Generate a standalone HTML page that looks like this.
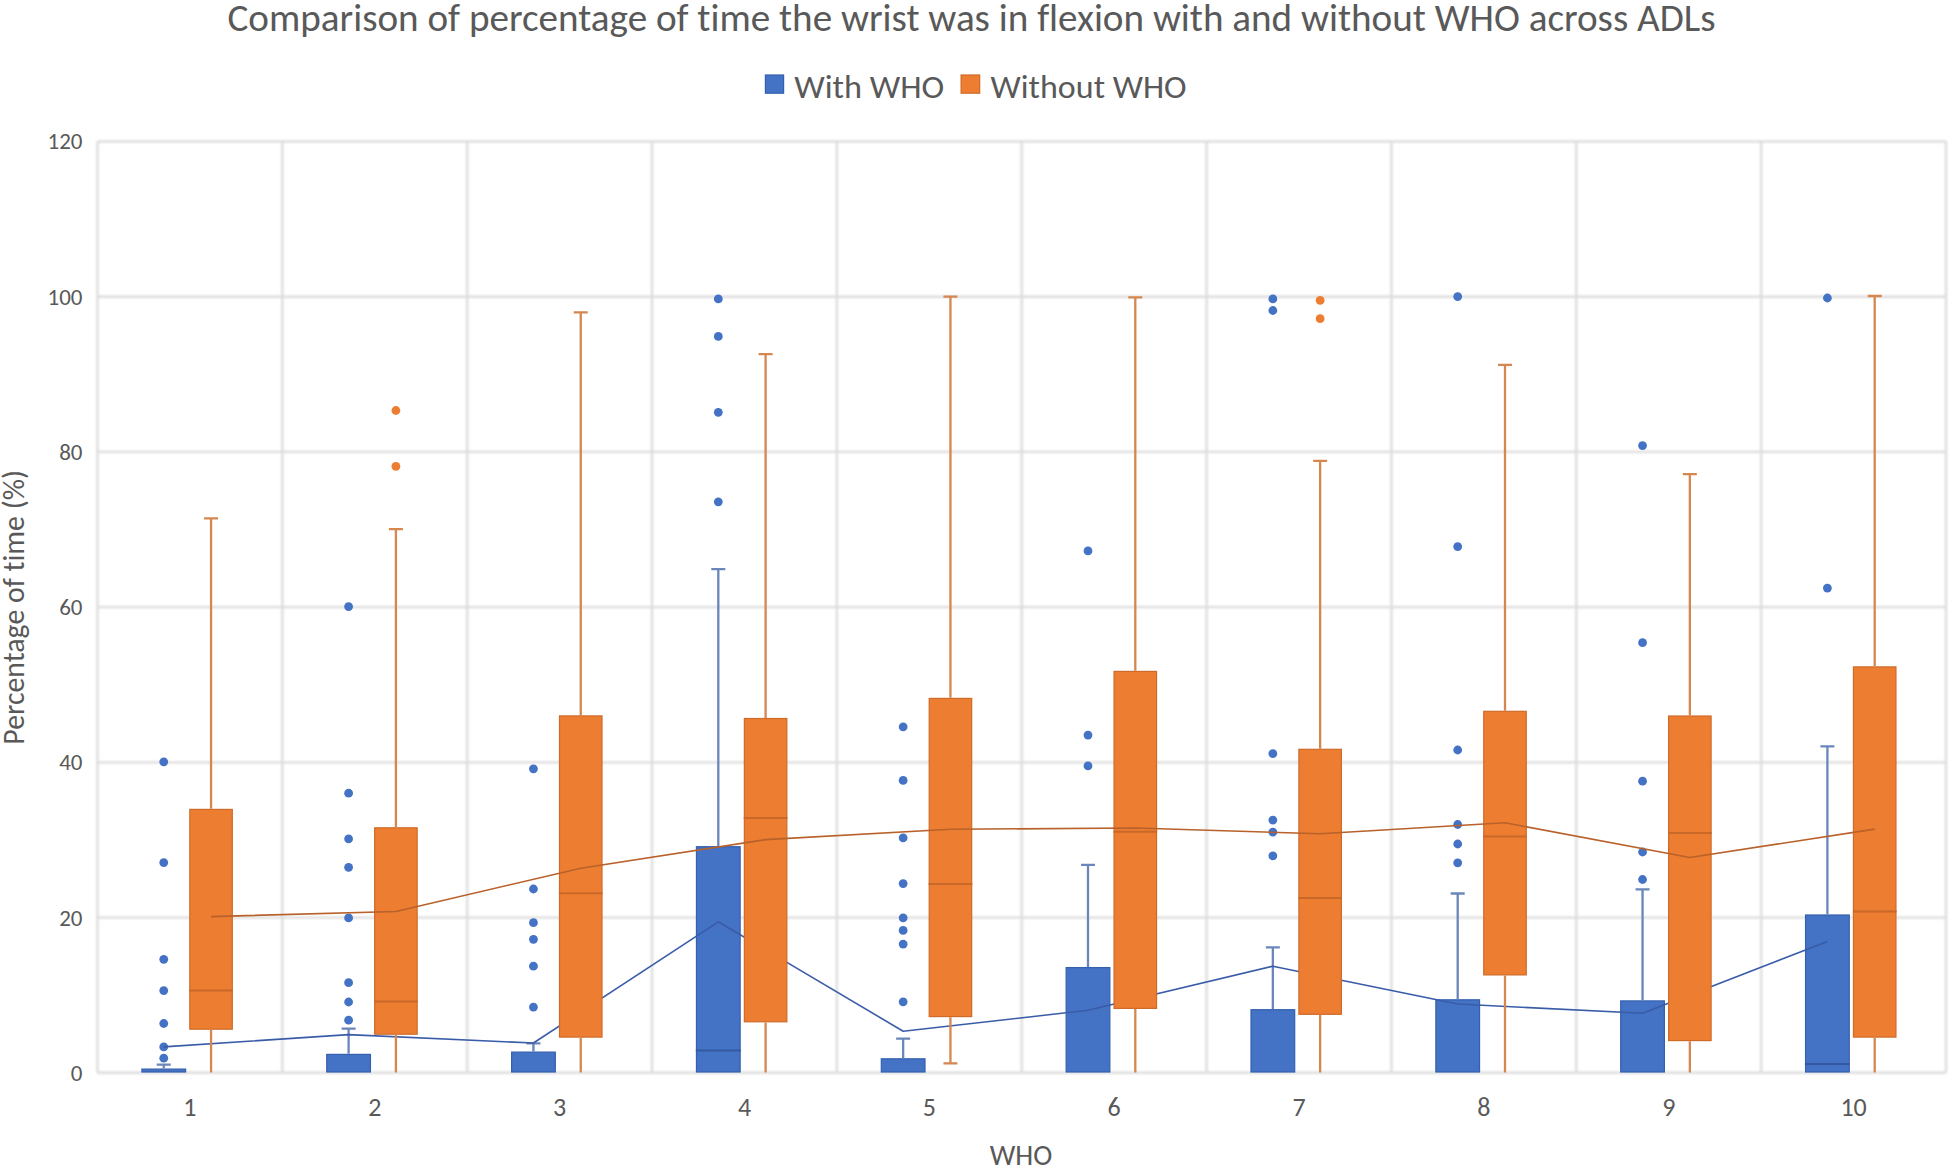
<!DOCTYPE html>
<html><head><meta charset="utf-8"><title>Comparison of percentage of time the wrist was in flexion</title>
<style>
html,body{margin:0;padding:0;background:#fff;overflow:hidden;}
svg{display:block;}
text{font-family:Carlito,"Liberation Sans",sans-serif;fill:#595959;font-variant-ligatures:none;font-feature-settings:"liga" 0,"clig" 0;}
</style></head><body>
<svg width="1950" height="1170" viewBox="0 0 1950 1170">
<defs><filter id="bl" filterUnits="userSpaceOnUse" x="0" y="0" width="1950" height="1170" color-interpolation-filters="sRGB"><feGaussianBlur stdDeviation="0.8"/></filter></defs>
<rect width="1950" height="1170" fill="#fff"/>
<g filter="url(#bl)">
<g stroke="#DCDCDC" stroke-width="2.4" fill="none">
<path d="M97.5 1072.8H1946"/>
<path d="M97.5 917.58H1946"/>
<path d="M97.5 762.36H1946"/>
<path d="M97.5 607.14H1946"/>
<path d="M97.5 451.92H1946"/>
<path d="M97.5 296.7H1946"/>
<path d="M97.5 141.48H1946"/>
<path d="M97.5 141.48V1072.8"/>
<path d="M282.35 141.48V1072.8"/>
<path d="M467.2 141.48V1072.8"/>
<path d="M652.05 141.48V1072.8"/>
<path d="M836.9 141.48V1072.8"/>
<path d="M1021.75 141.48V1072.8"/>
<path d="M1206.6 141.48V1072.8"/>
<path d="M1391.45 141.48V1072.8"/>
<path d="M1576.3 141.48V1072.8"/>
<path d="M1761.15 141.48V1072.8"/>
<path d="M1946 141.48V1072.8"/>
</g>
</g>
<g>
<rect x="141.9" y="1069.1" width="43.7" height="2.9" fill="#4472C4" stroke="#3460B0" stroke-width="1.2"/>
<circle cx="163.75" cy="761.8" r="4.4" fill="#4472C4"/>
<circle cx="163.75" cy="862.6" r="4.4" fill="#4472C4"/>
<circle cx="163.75" cy="959.3" r="4.4" fill="#4472C4"/>
<circle cx="163.75" cy="990.6" r="4.4" fill="#4472C4"/>
<circle cx="163.75" cy="1023.5" r="4.4" fill="#4472C4"/>
<circle cx="163.75" cy="1046.9" r="4.4" fill="#4472C4"/>
<circle cx="163.75" cy="1058.2" r="4.4" fill="#4472C4"/>
<rect x="326.75" y="1054.4" width="43.7" height="17.6" fill="#4472C4" stroke="#3460B0" stroke-width="1.2"/>
<circle cx="348.6" cy="606.6" r="4.4" fill="#4472C4"/>
<circle cx="348.6" cy="793.2" r="4.4" fill="#4472C4"/>
<circle cx="348.6" cy="838.8" r="4.4" fill="#4472C4"/>
<circle cx="348.6" cy="867.3" r="4.4" fill="#4472C4"/>
<circle cx="348.6" cy="917.9" r="4.4" fill="#4472C4"/>
<circle cx="348.6" cy="982.7" r="4.4" fill="#4472C4"/>
<circle cx="348.6" cy="1002" r="4.4" fill="#4472C4"/>
<circle cx="348.6" cy="1020.2" r="4.4" fill="#4472C4"/>
<rect x="511.6" y="1052.1" width="43.7" height="19.9" fill="#4472C4" stroke="#3460B0" stroke-width="1.2"/>
<circle cx="533.45" cy="768.8" r="4.4" fill="#4472C4"/>
<circle cx="533.45" cy="889" r="4.4" fill="#4472C4"/>
<circle cx="533.45" cy="922.7" r="4.4" fill="#4472C4"/>
<circle cx="533.45" cy="939.3" r="4.4" fill="#4472C4"/>
<circle cx="533.45" cy="966.2" r="4.4" fill="#4472C4"/>
<circle cx="533.45" cy="1007.1" r="4.4" fill="#4472C4"/>
<rect x="696.45" y="846.7" width="43.7" height="225.3" fill="#4472C4" stroke="#3460B0" stroke-width="1.2"/>
<path d="M695.85 1050.6H740.75" stroke="#3459A0" stroke-width="2"/>
<circle cx="718.3" cy="298.9" r="4.4" fill="#4472C4"/>
<circle cx="718.3" cy="336.4" r="4.4" fill="#4472C4"/>
<circle cx="718.3" cy="412.3" r="4.4" fill="#4472C4"/>
<circle cx="718.3" cy="501.8" r="4.4" fill="#4472C4"/>
<rect x="881.3" y="1058.8" width="43.7" height="13.2" fill="#4472C4" stroke="#3460B0" stroke-width="1.2"/>
<circle cx="903.15" cy="726.8" r="4.4" fill="#4472C4"/>
<circle cx="903.15" cy="780.4" r="4.4" fill="#4472C4"/>
<circle cx="903.15" cy="837.8" r="4.4" fill="#4472C4"/>
<circle cx="903.15" cy="883.6" r="4.4" fill="#4472C4"/>
<circle cx="903.15" cy="917.8" r="4.4" fill="#4472C4"/>
<circle cx="903.15" cy="930.4" r="4.4" fill="#4472C4"/>
<circle cx="903.15" cy="944.1" r="4.4" fill="#4472C4"/>
<circle cx="903.15" cy="1001.8" r="4.4" fill="#4472C4"/>
<rect x="1066.15" y="967.6" width="43.7" height="104.4" fill="#4472C4" stroke="#3460B0" stroke-width="1.2"/>
<circle cx="1088" cy="550.9" r="4.4" fill="#4472C4"/>
<circle cx="1088" cy="735.1" r="4.4" fill="#4472C4"/>
<circle cx="1088" cy="765.9" r="4.4" fill="#4472C4"/>
<rect x="1251" y="1009.7" width="43.7" height="62.3" fill="#4472C4" stroke="#3460B0" stroke-width="1.2"/>
<circle cx="1272.85" cy="298.9" r="4.4" fill="#4472C4"/>
<circle cx="1272.85" cy="310.5" r="4.4" fill="#4472C4"/>
<circle cx="1272.85" cy="753.6" r="4.4" fill="#4472C4"/>
<circle cx="1272.85" cy="820.1" r="4.4" fill="#4472C4"/>
<circle cx="1272.85" cy="832.1" r="4.4" fill="#4472C4"/>
<circle cx="1272.85" cy="855.8" r="4.4" fill="#4472C4"/>
<rect x="1435.85" y="999.8" width="43.7" height="72.2" fill="#4472C4" stroke="#3460B0" stroke-width="1.2"/>
<circle cx="1457.7" cy="296.6" r="4.4" fill="#4472C4"/>
<circle cx="1457.7" cy="546.6" r="4.4" fill="#4472C4"/>
<circle cx="1457.7" cy="750" r="4.4" fill="#4472C4"/>
<circle cx="1457.7" cy="824.5" r="4.4" fill="#4472C4"/>
<circle cx="1457.7" cy="844" r="4.4" fill="#4472C4"/>
<circle cx="1457.7" cy="862.8" r="4.4" fill="#4472C4"/>
<rect x="1620.7" y="1000.9" width="43.7" height="71.1" fill="#4472C4" stroke="#3460B0" stroke-width="1.2"/>
<circle cx="1642.55" cy="445.6" r="4.4" fill="#4472C4"/>
<circle cx="1642.55" cy="642.7" r="4.4" fill="#4472C4"/>
<circle cx="1642.55" cy="781.2" r="4.4" fill="#4472C4"/>
<circle cx="1642.55" cy="852" r="4.4" fill="#4472C4"/>
<circle cx="1642.55" cy="879.5" r="4.4" fill="#4472C4"/>
<rect x="1805.55" y="915" width="43.7" height="157" fill="#4472C4" stroke="#3460B0" stroke-width="1.2"/>
<path d="M1804.95 1064H1849.85" stroke="#3459A0" stroke-width="2"/>
<circle cx="1827.4" cy="298" r="4.4" fill="#4472C4"/>
<circle cx="1827.4" cy="588.1" r="4.4" fill="#4472C4"/>
</g>
<path d="M163.75 1068.5V1064.6M156.75 1064.6H170.75 M348.6 1053.8V1028.6M341.6 1028.6H355.6 M533.45 1051.5V1043.3M526.45 1043.3H540.45 M718.3 846.1V569.2M711.3 569.2H725.3 M903.15 1058.2V1038.7M896.15 1038.7H910.15 M1088 967V864.8M1081 864.8H1095 M1272.85 1009.1V947.4M1265.85 947.4H1279.85 M1457.7 999.2V893.5M1450.7 893.5H1464.7 M1642.55 1000.3V889.3M1635.55 889.3H1649.55 M1827.4 914.4V746.4M1820.4 746.4H1834.4" fill="none" stroke="#6A86BA" stroke-width="2.3"/>
<path d="M163.75,1046.9 L348.6,1034.6 L533.45,1043 L718.3,921.8 L903.15,1031.2 L1088,1010.3 L1272.85,966.2 L1457.7,1004 L1642.55,1013.3 L1827.4,941.5" fill="none" stroke="#3A5CA8" stroke-width="1.6" stroke-linejoin="round"/>
<g>
<rect x="189.8" y="809.4" width="42.5" height="219.8" fill="#ED7D31" stroke="#CF6B28" stroke-width="1.2"/>
<path d="M189.2 990.4H232.9" stroke="#C8692A" stroke-width="2"/>
<rect x="374.65" y="827.8" width="42.5" height="206.4" fill="#ED7D31" stroke="#CF6B28" stroke-width="1.2"/>
<path d="M374.05 1001.6H417.75" stroke="#C8692A" stroke-width="2"/>
<circle cx="395.9" cy="410.5" r="4.4" fill="#ED7D31"/>
<circle cx="395.9" cy="466.3" r="4.4" fill="#ED7D31"/>
<rect x="559.5" y="715.9" width="42.5" height="321.2" fill="#ED7D31" stroke="#CF6B28" stroke-width="1.2"/>
<path d="M558.9 893.2H602.6" stroke="#C8692A" stroke-width="2"/>
<rect x="744.35" y="718.5" width="42.5" height="303.3" fill="#ED7D31" stroke="#CF6B28" stroke-width="1.2"/>
<path d="M743.75 817.9H787.45" stroke="#C8692A" stroke-width="2"/>
<rect x="929.2" y="698.4" width="42.5" height="318.2" fill="#ED7D31" stroke="#CF6B28" stroke-width="1.2"/>
<path d="M928.6 884H972.3" stroke="#C8692A" stroke-width="2"/>
<rect x="1114.05" y="671.4" width="42.5" height="337" fill="#ED7D31" stroke="#CF6B28" stroke-width="1.2"/>
<path d="M1113.45 831.7H1157.15" stroke="#C8692A" stroke-width="2"/>
<rect x="1298.9" y="749.3" width="42.5" height="265" fill="#ED7D31" stroke="#CF6B28" stroke-width="1.2"/>
<path d="M1298.3 898.1H1342" stroke="#C8692A" stroke-width="2"/>
<circle cx="1320.15" cy="300.3" r="4.4" fill="#ED7D31"/>
<circle cx="1320.15" cy="318.7" r="4.4" fill="#ED7D31"/>
<rect x="1483.75" y="711.3" width="42.5" height="263.6" fill="#ED7D31" stroke="#CF6B28" stroke-width="1.2"/>
<path d="M1483.15 836.5H1526.85" stroke="#C8692A" stroke-width="2"/>
<rect x="1668.6" y="716" width="42.5" height="324.6" fill="#ED7D31" stroke="#CF6B28" stroke-width="1.2"/>
<path d="M1668 833.1H1711.7" stroke="#C8692A" stroke-width="2"/>
<rect x="1853.45" y="666.9" width="42.5" height="370.2" fill="#ED7D31" stroke="#CF6B28" stroke-width="1.2"/>
<path d="M1852.85 911.4H1896.55" stroke="#C8692A" stroke-width="2"/>
</g>
<path d="M211.05 808.8V518.3M204.05 518.3H218.05 M211.05 1029.8V1072.6 M395.9 827.2V529.1M388.9 529.1H402.9 M395.9 1034.8V1072.6 M580.75 715.3V312.4M573.75 312.4H587.75 M580.75 1037.7V1072.6 M765.6 717.9V354.1M758.6 354.1H772.6 M765.6 1022.4V1072.6 M950.45 697.8V296.6M943.45 296.6H957.45 M950.45 1017.2V1063.3M943.45 1063.3H957.45 M1135.3 670.8V297.4M1128.3 297.4H1142.3 M1135.3 1009V1072.6 M1320.15 748.7V460.8M1313.15 460.8H1327.15 M1320.15 1014.9V1072.6 M1505 710.7V364.9M1498 364.9H1512 M1505 975.5V1072.6 M1689.85 715.4V474.1M1682.85 474.1H1696.85 M1689.85 1041.2V1072.6 M1874.7 666.3V296M1867.7 296H1881.7 M1874.7 1037.7V1072.6" fill="none" stroke="#D6864F" stroke-width="2.3"/>
<path d="M211.05,916.6 L395.9,911.5 L580.75,868.2 L765.6,839.6 L950.45,829.3 L1135.3,828 L1320.15,833.8 L1505,822.8 L1689.85,857.5 L1874.7,829.1" fill="none" stroke="#B8612A" stroke-width="1.6" stroke-linejoin="round"/>
<rect x="765.4" y="75" width="18.2" height="18.2" fill="#4472C4" stroke="#3460B0" stroke-width="1.2"/>
<rect x="961.1" y="75" width="18.6" height="18.2" fill="#ED7D31" stroke="#CF6B28" stroke-width="1.2"/>
<text x="227.5" y="30.8" font-size="38.5" textLength="1488" lengthAdjust="spacingAndGlyphs">Comparison of percentage of time the wrist was in flexion with and without WHO across ADLs</text>
<text x="794.2" y="97.5" font-size="33.5" textLength="150" lengthAdjust="spacingAndGlyphs">With WHO</text>
<text x="990.6" y="97.5" font-size="33.5" textLength="196" lengthAdjust="spacingAndGlyphs">Without WHO</text>
<g font-size="23" text-anchor="end" style="fill:#727272">
<text x="82.5" y="1080.8">0</text>
<text x="82.5" y="925.58">20</text>
<text x="82.5" y="770.36">40</text>
<text x="82.5" y="615.14">60</text>
<text x="82.5" y="459.92">80</text>
<text x="82.5" y="304.7">100</text>
<text x="82.5" y="149.48">120</text>
</g>
<g font-size="26" text-anchor="middle" style="fill:#606060">
<text x="189.93" y="1116.3">1</text>
<text x="374.78" y="1116.3">2</text>
<text x="559.62" y="1116.3">3</text>
<text x="744.47" y="1116.3">4</text>
<text x="929.32" y="1116.3">5</text>
<text x="1114.17" y="1116.3">6</text>
<text x="1299.02" y="1116.3">7</text>
<text x="1483.88" y="1116.3">8</text>
<text x="1668.72" y="1116.3">9</text>
<text x="1853.57" y="1116.3">10</text>
</g>
<text x="1021" y="1165.4" font-size="28.8" text-anchor="middle" textLength="62.6" lengthAdjust="spacingAndGlyphs">WHO</text>
<text transform="translate(23.5,607.3) rotate(-90)" font-size="29.8" text-anchor="middle" textLength="274.7" lengthAdjust="spacingAndGlyphs">Percentage of time (%)</text>
</svg>
</body></html>
